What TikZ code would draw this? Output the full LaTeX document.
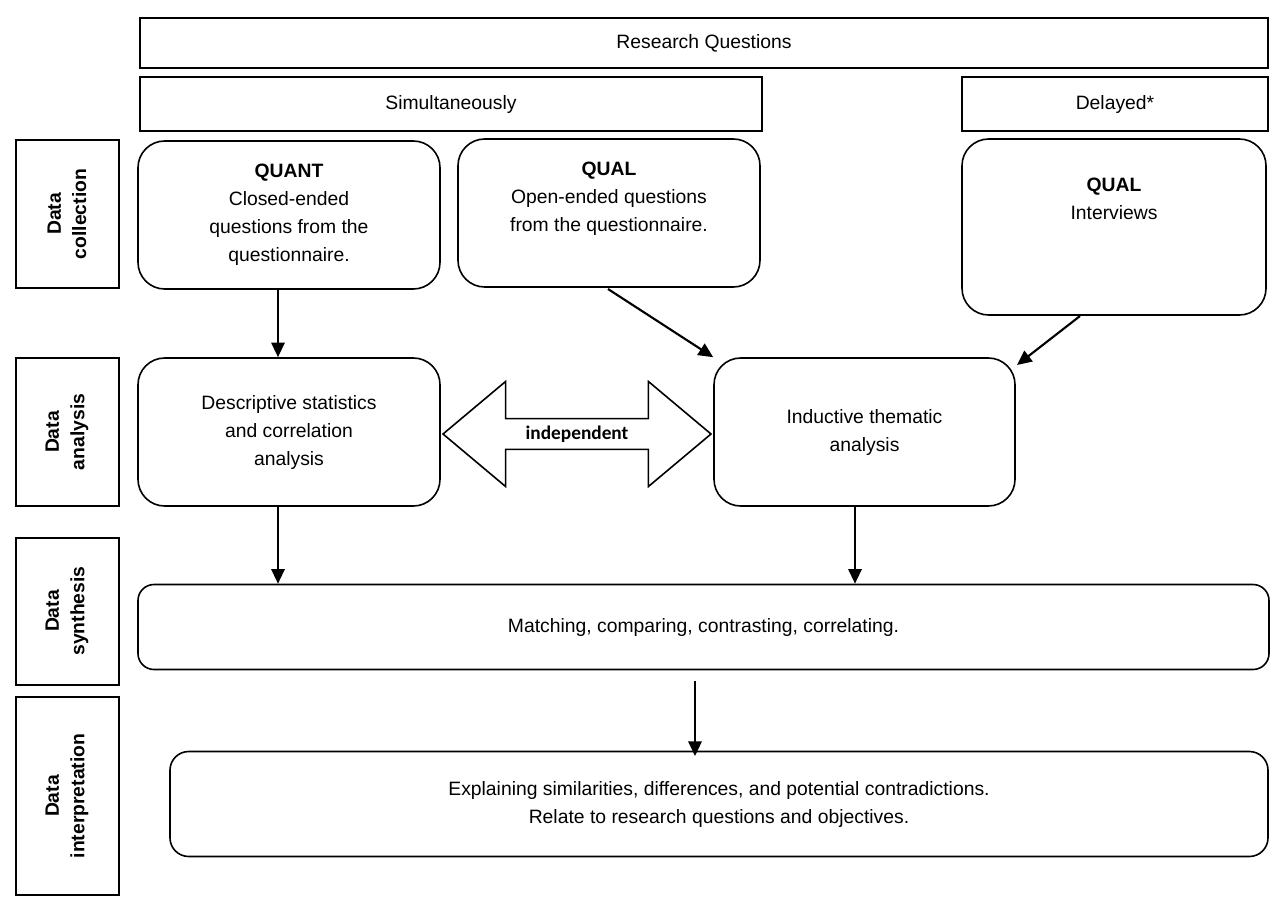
\documentclass[tikz,border=0pt]{standalone}
\usepackage{fontspec}
\setmainfont{Liberation Sans}
\newfontfamily\carl{Carlito}
\usetikzlibrary{shapes.arrows,positioning,arrows.meta}
\begin{document}
\begin{tikzpicture}[x=0.75pt,y=-0.75pt,
  sq/.style={draw,line width=1.6pt,inner sep=0pt},
  rb/.style={draw,line width=1.2pt,rounded corners=20pt,inner sep=0pt,align=center,font=\fontsize{14.5}{21}\selectfont},
  lab/.style={draw,line width=1.2pt},
  ltxt/.style={rotate=90,align=center,font=\bfseries\fontsize{14.5}{19}\selectfont},
  arr/.style={-{Triangle[length=11pt,width=10pt]},line width=1.6pt}]
\useasboundingbox (0,0) rectangle (1280,903);
\fill[white] (0,0) rectangle (1280,903);
% top boxes
\draw[sq] (140,18) rectangle (1268,68);
\node[font=\fontsize{14.5}{18}\selectfont] (rq) at (704,43) {Research Questions};
\draw[sq] (140,77) rectangle (762,131);
\node[font=\fontsize{14.5}{18}\selectfont] (sim) at (451,104) {Simultaneously};
\draw[sq] (962,77) rectangle (1268,131);
\node[font=\fontsize{14.5}{18}\selectfont] (del) at (1115,104) {Delayed*};
% left labels
\draw[lab] (16,140) rectangle (119,288);
\node[ltxt] (l1) at (67,214) {Data\\collection};
\draw[lab] (16,358) rectangle (119,506);
\node[ltxt] (l2) at (67,432) {Data\\analysis};
\draw[lab] (16,538) rectangle (119,685);
\node[ltxt] (l3) at (67,611) {Data\\synthesis};
\draw[lab] (16,697) rectangle (119,895);
\node[ltxt] (l4) at (67,796) {Data\\interpretation};
% main boxes
\node[rb,minimum width=302*0.75pt,minimum height=148*0.75pt] (quant) at (289,215) {\textbf{QUANT}\\Closed-ended\\questions from the\\questionnaire.};
\node[rb,minimum width=302*0.75pt,minimum height=148*0.75pt] (qual1) at (609,213) {\textbf{QUAL}\\Open-ended questions\\from the questionnaire.\\[4pt]};
\node[rb,minimum width=304*0.75pt,minimum height=176*0.75pt] (qual2) at (1114,227) {\textbf{QUAL}\\Interviews\\[22pt]};
\node[rb,minimum width=302*0.75pt,minimum height=148*0.75pt] (desc) at (289,432) {Descriptive statistics\\and correlation\\analysis};
\node[rb,minimum width=301*0.75pt,minimum height=148*0.75pt] (ind) at (864.5,432) {Inductive thematic\\analysis};
\node[rb,rounded corners=12pt,minimum width=1131*0.75pt,minimum height=85*0.75pt] (syn) at (703.5,627) {Matching, comparing, contrasting, correlating.};
\node[rb,rounded corners=14pt,minimum width=1098*0.75pt,minimum height=105*0.75pt] (int) at (719,804) {Explaining similarities, differences, and potential contradictions.\\Relate to research questions and objectives.};
% double arrow
\node[double arrow,draw,line width=1.2pt,minimum width=105*0.75pt,minimum height=268*0.75pt,double arrow head extend=22*0.75pt,double arrow tip angle=80,inner sep=0pt,font=\carl\bfseries\fontsize{14.5}{18}\selectfont] (dbl) at (577,434) {independent};
% arrows
\coordinate (a1) at (278,290);
\draw[arr] (quant.south -| a1) -- (desc.north -| a1);
\draw[arr] (608,289) -- (ind.north west);
\draw[arr] (1080,316) -- (1017,365);
\draw[arr] (desc.south -| a1) -- (syn.north -| a1);
\coordinate (a2) at (855,0);
\draw[arr] (ind.south -| a2) -- (syn.north -| a2);
\coordinate (a3) at (695,0);
\draw[arr] ([yshift=-8pt]syn.south -| a3) -- ([yshift=-4pt]int.north -| a3);
\end{tikzpicture}
\end{document}
